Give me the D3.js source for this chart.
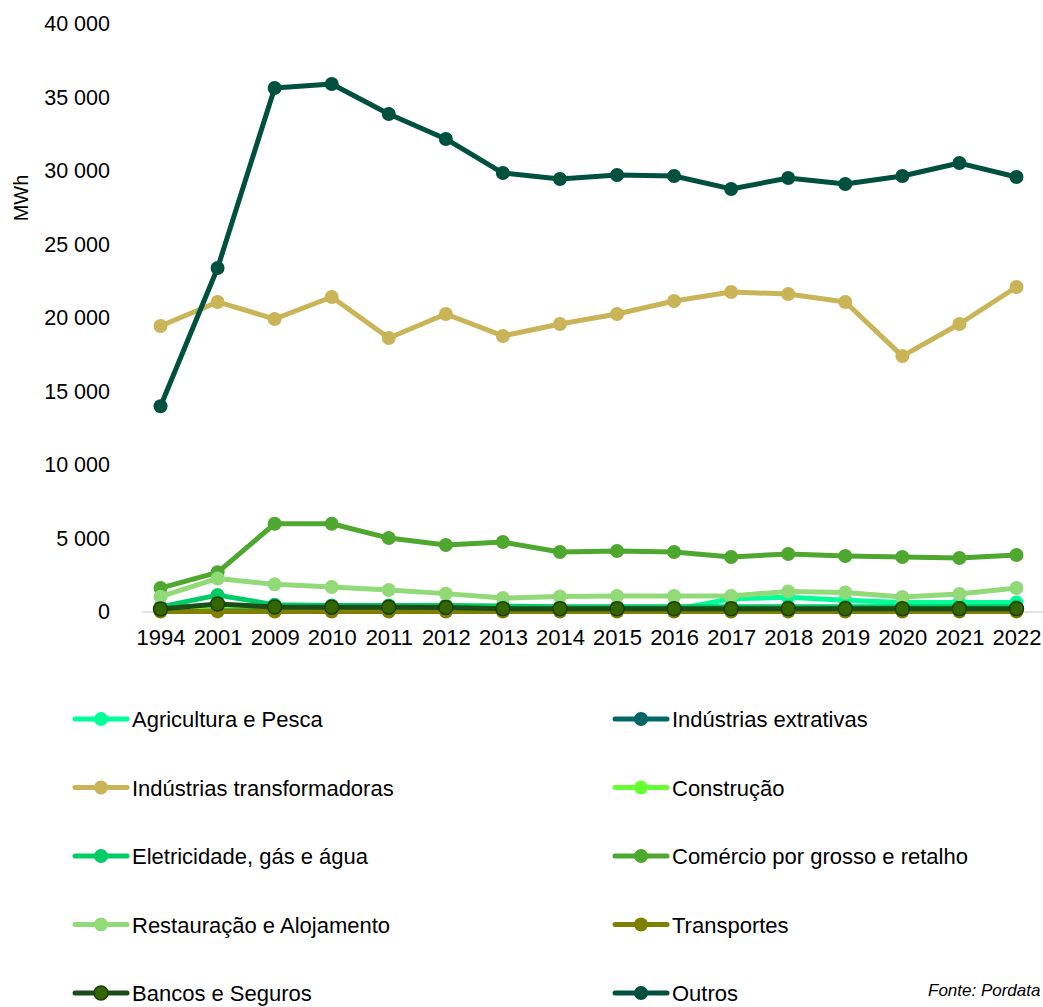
<!DOCTYPE html>
<html>
<head>
<meta charset="utf-8">
<script src="https://cdn.jsdelivr.net/npm/d3@7"></script>
<style>
  body { margin: 0; background: #fff; }
  svg text { font-family: "Liberation Sans", Arial, sans-serif; fill: #000; }
</style>
</head>
<body>
<div id="chart"></div>
<script>
// categories (years)
var years = ["1994","2001","2009","2010","2011","2012","2013","2014","2015","2016","2017","2018","2019","2020","2021","2022"];

// series values (MWh)
var agricultura = [100, 150, 120, 120, 110, 100, 90, 80, 90, 150, 900, 1000, 800, 650, 650, 650];
var extrativas = [200, 300, 250, 250, 250, 250, 200, 200, 200, 200, 200, 200, 200, 200, 200, 200];
var transformadoras = [19460, 21090, 19930, 21430, 18640, 20270, 18780, 19590, 20270, 21160, 21770, 21630, 21090, 17410, 19590, 22110];
var construcao = [300, 400, 400, 380, 350, 350, 300, 300, 300, 300, 300, 300, 300, 300, 300, 300];
var eletricidade = [350, 1150, 500, 450, 450, 450, 400, 350, 350, 350, 350, 350, 350, 350, 350, 350];
var comercio = [1630, 2700, 6000, 6000, 5030, 4560, 4760, 4080, 4150, 4080, 3740, 3950, 3810, 3740, 3670, 3880];
var restauracao = [1040, 2280, 1880, 1700, 1500, 1250, 950, 1050, 1090, 1090, 1090, 1400, 1330, 1020, 1220, 1630];
var transportes = [30, 40, 30, 30, 30, 30, 30, 30, 30, 30, 30, 30, 30, 30, 30, 30];
var bancos = [200, 540, 340, 330, 330, 300, 220, 220, 220, 220, 220, 220, 220, 220, 220, 220];
var outros = [14000, 23400, 35650, 35920, 33880, 32180, 29860, 29460, 29730, 29660, 28780, 29520, 29120, 29660, 30540, 29590];

var seriesNames = ["Agricultura e Pesca", "Indústrias extrativas", "Indústrias transformadoras", "Construção",
  "Eletricidade, gás e água", "Comércio por grosso e retalho", "Restauração e Alojamento", "Transportes",
  "Bancos e Seguros", "Outros"];
var seriesValues = [agricultura, extrativas, transformadoras, construcao, eletricidade, comercio, restauracao, transportes, bancos, outros];
var yTicks = [0, 5000, 10000, 15000, 20000, 25000, 30000, 35000, 40000];

var lineColors = ["#00FF99", "#006666", "#C9B458", "#66FF33", "#00CC66", "#4EA72E", "#92D978", "#808000", "#1B4D1B", "#00503F"];
var dotColors  = ["#00FF99", "#006666", "#C9B458", "#66FF33", "#00CC66", "#4EA72E", "#92D978", "#808000", "#336600", "#00503F"];
var dotStroke  = ["none", "none", "none", "none", "none", "none", "none", "none", "#1B3D0B", "none"];

var W = 1043, H = 1007;
var margin = { top: 24, right: 0, bottom: 395, left: 132 };
var width = W - margin.left - margin.right,
    height = H - margin.top - margin.bottom;

var svg = d3.select("#chart").append("svg")
  .attr("width", W)
  .attr("height", H);

var g = svg.append("g")
  .attr("transform", "translate(" + margin.left + "," + margin.top + ")");

var xScale = d3.scalePoint()
  .domain(years)
  .range([0, 913])
  .padding(0.5);

var yScale = d3.scaleLinear()
  .domain([0, 40000])
  .range([height, 0]);

var fmt = function (d) { return d3.format(",")(d).replace(/,/g, " "); };

// y axis labels
var yAxis = g.append("g")
  .call(d3.axisLeft(yScale).tickValues(yTicks).tickFormat(fmt).tickSize(0).tickPadding(22));
yAxis.select(".domain").remove();
yAxis.selectAll("text")
  .style("font-size", "21.5px")
  .style("font-family", "Liberation Sans, Arial, sans-serif")
  .attr("fill", "#000");

// baseline
g.append("line")
  .attr("x1", 10).attr("x2", width)
  .attr("y1", yScale(0)).attr("y2", yScale(0))
  .attr("stroke", "#d9d9d9")
  .attr("stroke-width", 1.5);

// x axis labels
var xAxis = g.append("g")
  .attr("transform", "translate(0," + height + ")")
  .call(d3.axisBottom(xScale).tickSize(0).tickPadding(17));
xAxis.select(".domain").remove();
xAxis.selectAll("text")
  .style("font-size", "22px")
  .style("font-family", "Liberation Sans, Arial, sans-serif")
  .attr("fill", "#000");

// axis title
svg.append("text")
  .attr("transform", "translate(28,198) rotate(-90)")
  .attr("text-anchor", "middle")
  .style("font-size", "20px")
  .text("MWh");

// lines and markers
var line = d3.line()
  .x(function (d, i) { return xScale(years[i]); })
  .y(function (d) { return yScale(d); });

seriesValues.forEach(function (vals, k) {
  var s = g.append("g");
  s.append("path")
    .datum(vals)
    .attr("fill", "none")
    .attr("stroke", lineColors[k])
    .attr("stroke-width", 5)
    .attr("stroke-linejoin", "round")
    .attr("d", line);
  s.selectAll("circle")
    .data(vals)
    .enter().append("circle")
    .attr("cx", function (d, i) { return xScale(years[i]); })
    .attr("cy", function (d) { return yScale(d); })
    .attr("r", 7)
    .attr("fill", dotColors[k])
    .attr("stroke", dotStroke[k])
    .attr("stroke-width", 1.5);
});

// legend
var legend = svg.append("g");
seriesNames.forEach(function (name, k) {
  var col = k % 2, row = Math.floor(k / 2);
  var lx = col === 0 ? 75 : 615;
  var ly = 719 + row * 68.5;
  var item = legend.append("g").attr("transform", "translate(" + lx + "," + ly + ")");
  item.append("line")
    .attr("x1", 0).attr("x2", 52)
    .attr("y1", 0).attr("y2", 0)
    .attr("stroke", lineColors[k])
    .attr("stroke-width", 5)
    .attr("stroke-linecap", "round");
  item.append("circle")
    .attr("cx", 26).attr("cy", 0).attr("r", 7)
    .attr("fill", dotColors[k])
    .attr("stroke", dotStroke[k])
    .attr("stroke-width", 1.5);
  item.append("text")
    .attr("x", 57).attr("y", 8)
    .style("font-size", "22px")
    .text(name);
});

svg.append("text")
  .attr("x", 928).attr("y", 996)
  .style("font-size", "17px")
  .style("font-style", "italic")
  .text("Fonte: Pordata");
</script>
</body>
</html>
